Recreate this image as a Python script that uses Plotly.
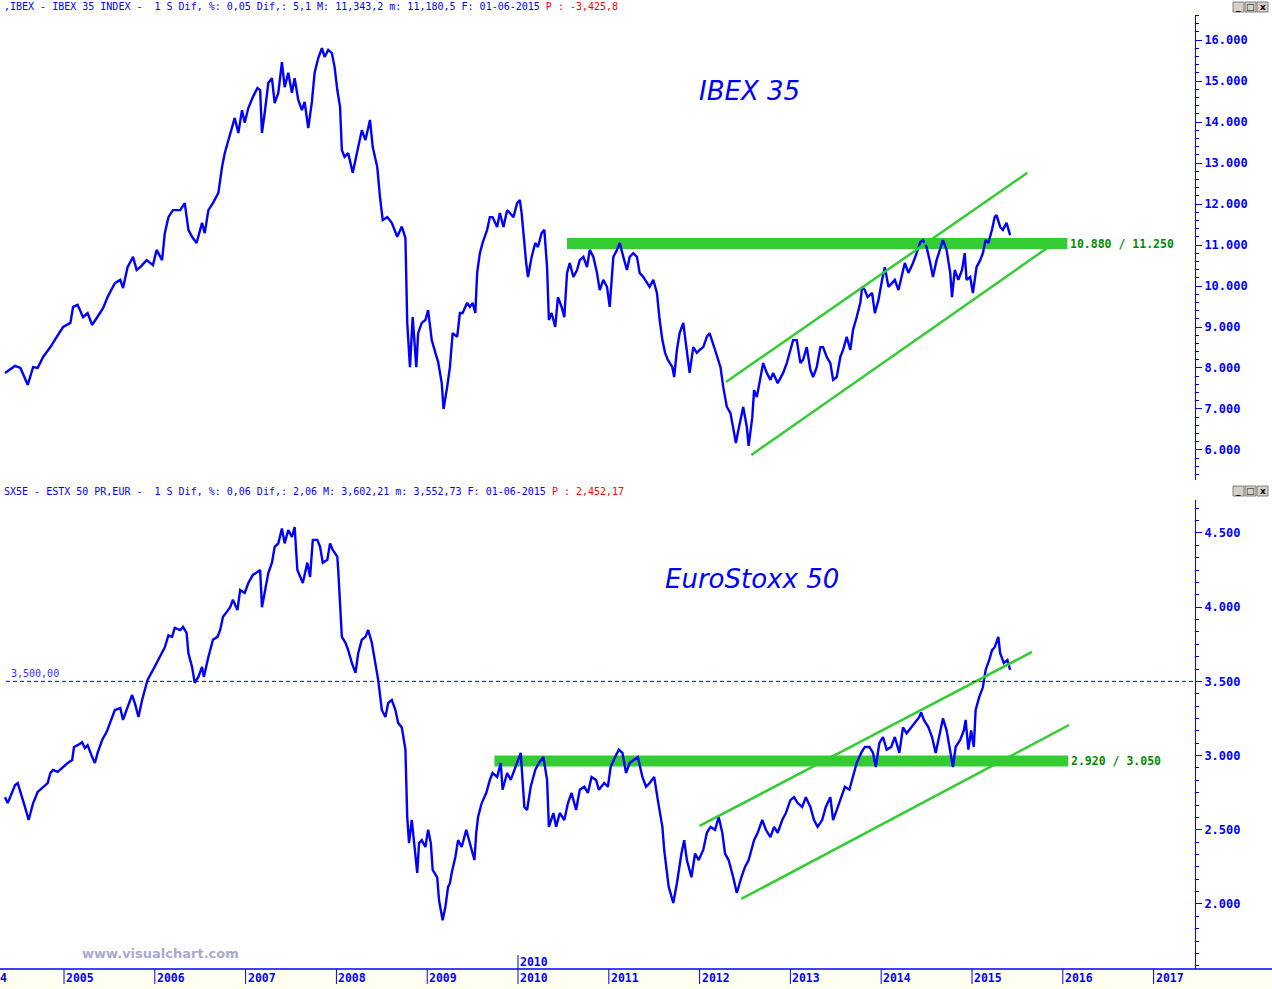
import plotly.graph_objects as go

# ---------------- data ----------------
ibex_t = [2004.35,2004.46,2004.52,2004.60,2004.66,2004.71,2004.77,2004.85,2004.92,2004.99,
2005.07,2005.10,2005.15,2005.21,2005.26,2005.31,2005.36,2005.43,2005.48,2005.56,2005.62,2005.65,
2005.70,2005.76,2005.80,2005.84,2005.91,2005.98,2006.02,2006.08,2006.11,2006.15,2006.20,2006.28,
2006.33,2006.37,2006.41,2006.46,2006.52,2006.55,2006.59,2006.64,2006.70,2006.74,2006.77,2006.81,
2006.85,2006.88,2006.92,2006.96,2006.99,2007.03,2007.08,2007.13,2007.16,2007.18,2007.21,2007.25,
2007.29,2007.32,2007.36,2007.40,2007.43,2007.47,2007.51,2007.54,2007.58,2007.62,2007.65,2007.69,
2007.73,2007.76,2007.80,2007.84,2007.87,2007.91,2007.95,2007.98,2008.01,2008.04,2008.06,2008.09,
2008.13,2008.18,2008.24,2008.28,2008.32,2008.37,2008.40,2008.45,2008.48,2008.51,2008.56,2008.61,
2008.67,2008.72,2008.76,2008.78,2008.81,2008.84,2008.88,2008.90,2008.94,2008.98,2009.01,2009.05,
2009.09,2009.12,2009.16,2009.18,2009.22,2009.25,2009.28,2009.33,2009.36,2009.39,2009.44,2009.47,
2009.50,2009.53,2009.55,2009.58,2009.61,2009.66,2009.69,2009.72,2009.77,2009.80,2009.84,2009.88,
2009.91,2009.95,2009.99,2010.02,2010.04,2010.06,2010.09,2010.11,2010.15,2010.19,2010.22,2010.26,
2010.29,2010.32,2010.34,2010.37,2010.41,2010.44,2010.48,2010.51,2010.54,2010.57,2010.61,2010.65,
2010.68,2010.72,2010.76,2010.79,2010.83,2010.87,2010.90,2010.94,2010.98,2011.01,2011.05,2011.09,
2011.12,2011.16,2011.20,2011.23,2011.27,2011.31,2011.34,2011.38,2011.42,2011.45,2011.49,2011.53,
2011.56,2011.59,2011.62,2011.65,2011.70,2011.72,2011.75,2011.78,2011.82,2011.86,2011.89,2011.93,
2011.97,2012.00,2012.04,2012.08,2012.11,2012.17,2012.23,2012.26,2012.30,2012.34,2012.37,2012.40,
2012.42,2012.46,2012.48,2012.52,2012.54,2012.58,2012.60,2012.63,2012.67,2012.70,2012.74,2012.78,
2012.81,2012.86,2012.92,2012.96,2013.00,2013.03,2013.07,2013.11,2013.14,2013.18,2013.22,2013.25,
2013.29,2013.33,2013.36,2013.40,2013.44,2013.47,2013.51,2013.55,2013.58,2013.62,2013.66,2013.69,
2013.73,2013.77,2013.79,2013.82,2013.85,2013.90,2013.93,2013.97,2014.01,2014.04,2014.08,2014.12,
2014.15,2014.19,2014.23,2014.26,2014.30,2014.35,2014.39,2014.43,2014.46,2014.50,2014.54,2014.57,
2014.61,2014.65,2014.68,2014.72,2014.76,2014.78,2014.81,2014.85,2014.89,2014.92,2014.94,2014.98,
2015.01,2015.05,2015.09,2015.12,2015.15,2015.18,2015.22,2015.25,2015.27,2015.31,2015.34,2015.38,2015.42]
ibex_v = [7880,8050,8000,7590,8020,8000,8270,8510,8760,9000,
9100,9490,9540,9240,9340,9050,9220,9460,9730,10070,10150,9950,
10460,10710,10390,10460,10630,10510,10880,10630,11290,11680,11850,11850,
12020,11370,11200,11050,11540,11290,11850,12020,12270,12900,13240,13560,
13880,14100,13730,14290,13980,14340,14610,14830,14780,13730,14220,14950,
15070,14460,14710,15460,14850,15200,14710,15070,14540,14290,14490,13850,
14490,15200,15560,15800,15590,15760,15680,15340,14780,14370,13320,13150,
13240,12760,13390,13800,13560,14050,13390,12900,12170,11610,11680,11540,
11200,11450,11170,9100,8020,9240,8020,8850,9100,9170,9410,8680,
8370,8150,7630,7000,7540,8020,8850,8760,9340,9340,9590,9490,
9590,9340,10320,10800,11050,11370,11680,11680,11440,11780,11440,11850,
11780,11680,12020,12100,11780,11200,10560,10220,10710,11050,10950,11290,
11370,10460,9170,9340,9000,9730,9490,9240,10320,10560,10220,10390,
10630,10710,10460,10880,10710,10320,9900,10150,9980,9490,10710,10880,
11050,10710,10390,10710,10800,10710,10320,10220,10070,9980,10150,9830,
9170,8680,8370,8200,8020,7780,8440,8850,9100,8440,7880,8510,
8370,8440,8510,8760,8850,8440,8020,7540,7050,6900,6560,6170,
6410,6800,7050,6560,6100,6800,7460,7290,7780,8120,7880,7710,
7880,7630,7880,8120,8440,8680,8680,8120,8200,8510,7950,7780,
8020,8510,8510,8270,8120,7710,7780,8270,8440,8760,8440,8930,
9240,9590,9980,9900,9730,9830,9340,9660,10150,10460,9980,10070,
10150,9900,10320,10560,10320,10560,10800,11070,11120,10950,10560,10220,
10630,10880,11120,10880,10320,9730,10390,10150,10390,10800,10150,10220,
9830,10460,10630,10800,11120,11050,11370,11680,11730,11440,11370,11540,11240]

sx5e_t = [2004.35,2004.38,2004.43,2004.46,2004.49,2004.54,2004.57,2004.61,2004.66,2004.71,
2004.77,2004.82,2004.85,2004.88,2004.93,2004.99,2005.04,2005.09,2005.11,2005.15,2005.20,2005.23,
2005.26,2005.31,2005.34,2005.37,2005.42,2005.47,2005.51,2005.56,2005.62,2005.65,2005.70,2005.75,
2005.78,2005.82,2005.86,2005.89,2005.92,2005.98,2006.04,2006.08,2006.11,2006.15,2006.19,2006.22,
2006.28,2006.31,2006.35,2006.37,2006.41,2006.44,2006.48,2006.52,2006.54,2006.59,2006.64,2006.69,
2006.72,2006.75,2006.80,2006.83,2006.86,2006.91,2006.94,2006.99,2007.03,2007.08,2007.13,2007.16,
2007.18,2007.21,2007.25,2007.29,2007.32,2007.36,2007.40,2007.43,2007.47,2007.51,2007.54,2007.57,
2007.60,2007.63,2007.68,2007.71,2007.74,2007.79,2007.82,2007.85,2007.90,2007.93,2007.96,2008.01,
2008.02,2008.04,2008.06,2008.10,2008.13,2008.17,2008.21,2008.24,2008.28,2008.32,2008.35,2008.39,
2008.42,2008.46,2008.50,2008.54,2008.57,2008.61,2008.65,2008.68,2008.72,2008.76,2008.78,2008.80,
2008.83,2008.85,2008.89,2008.91,2008.94,2008.98,2009.01,2009.04,2009.06,2009.11,2009.13,2009.17,
2009.20,2009.23,2009.25,2009.27,2009.31,2009.34,2009.38,2009.43,2009.47,2009.52,2009.54,2009.56,
2009.60,2009.65,2009.69,2009.72,2009.77,2009.81,2009.83,2009.88,2009.92,2009.97,2010.01,2010.03,
2010.07,2010.10,2010.14,2010.19,2010.23,2010.28,2010.32,2010.34,2010.39,2010.42,2010.46,2010.51,
2010.55,2010.59,2010.64,2010.68,2010.73,2010.77,2010.81,2010.86,2010.89,2010.95,2010.99,2011.02,
2011.07,2011.11,2011.15,2011.19,2011.23,2011.28,2011.32,2011.37,2011.41,2011.45,2011.50,2011.54,
2011.59,2011.61,2011.64,2011.66,2011.71,2011.75,2011.80,2011.83,2011.86,2011.91,2011.95,2011.99,
2012.04,2012.08,2012.12,2012.17,2012.21,2012.25,2012.28,2012.32,2012.37,2012.41,2012.46,2012.50,
2012.54,2012.57,2012.60,2012.64,2012.69,2012.73,2012.78,2012.82,2012.86,2012.91,2012.95,2013.00,
2013.04,2013.08,2013.13,2013.17,2013.22,2013.26,2013.30,2013.35,2013.39,2013.44,2013.47,2013.51,
2013.56,2013.60,2013.65,2013.69,2013.73,2013.78,2013.82,2013.87,2013.91,2013.94,2013.98,2014.02,
2014.06,2014.11,2014.15,2014.20,2014.24,2014.28,2014.33,2014.37,2014.42,2014.44,2014.47,2014.52,
2014.56,2014.60,2014.65,2014.68,2014.72,2014.76,2014.79,2014.82,2014.87,2014.91,2014.93,2014.96,
2014.99,2015.02,2015.04,2015.08,2015.12,2015.15,2015.19,2015.22,2015.25,2015.29,2015.31,2015.35,
2015.39,2015.42]
sx5e_v = [2720,2680,2755,2800,2815,2720,2654,2566,2680,2755,
2790,2815,2883,2903,2890,2923,2950,2970,3058,3070,3090,3050,
3070,2990,2950,3018,3105,3160,3220,3307,3320,3240,3327,3408,
3354,3260,3375,3442,3510,3577,3644,3690,3730,3810,3800,3860,
3846,3867,3826,3690,3597,3490,3530,3597,3530,3664,3780,3800,
3846,3934,3980,4000,4050,3980,4116,4096,4163,4217,4237,4250,
4000,4096,4230,4300,4406,4430,4530,4430,4520,4473,4540,4250,
4203,4163,4300,4203,4453,4453,4406,4300,4320,4430,4385,4340,
4250,4000,3800,3760,3710,3624,3557,3690,3780,3800,3846,3760,
3644,3510,3307,3260,3354,3375,3307,3220,3190,3040,2586,2410,
2566,2430,2210,2410,2430,2384,2500,2410,2230,2180,2027,1890,
1980,2115,2140,2210,2317,2430,2384,2500,2410,2296,2480,2586,
2680,2748,2836,2883,2856,2950,2770,2883,2836,2923,2990,3018,
2654,2633,2790,2903,2950,2990,2836,2520,2613,2520,2613,2566,
2680,2748,2633,2770,2790,2748,2856,2836,2770,2815,2790,2923,
2990,3040,3018,2883,2950,2970,2990,2856,2790,2815,2856,2700,
2520,2364,2210,2115,2007,2140,2340,2430,2296,2180,2340,2296,
2364,2480,2520,2500,2586,2480,2340,2296,2180,2074,2180,2250,
2296,2364,2430,2480,2566,2500,2450,2520,2480,2566,2613,2700,
2720,2680,2654,2720,2654,2566,2520,2566,2654,2720,2566,2633,
2720,2790,2770,2856,2950,3018,3058,3058,3018,2923,3085,3125,
3040,3058,3125,3018,3190,3150,3190,3220,3260,3290,3240,3190,
3125,3018,3150,3250,3170,3018,2923,3058,3105,3170,3240,3040,
3170,3058,3307,3395,3460,3577,3644,3710,3730,3800,3690,3624,
3644,3577]

# channel lines (start / end) and support-resistance zones
ibex_chan_up_t, ibex_chan_up_v = [2012.29, 2015.61], [7660, 12760]
ibex_chan_lo_t, ibex_chan_lo_v = [2012.57, 2015.83], [5880, 10930]
sx5e_chan_up_t, sx5e_chan_up_v = [2012.00, 2015.66], [2526, 3698]
sx5e_chan_lo_t, sx5e_chan_lo_v = [2012.46, 2016.07], [2034, 3206]
ibex_zone_t, ibex_zone_v = [2010.54, 2016.05], [10900, 11170]
sx5e_zone_t, sx5e_zone_v = [2009.74, 2016.06], [2926, 3000]
ibex_zone_label = "10.880 / 11.250"
sx5e_zone_label = "2.920 / 3.050"
sx5e_ref_level = 3500
sx5e_ref_label = "3,500,00"

ibex_tickvals = [6000, 7000, 8000, 9000, 10000, 11000, 12000, 13000, 14000, 15000, 16000]
ibex_ticktext = ["6.000", "7.000", "8.000", "9.000", "10.000", "11.000", "12.000",
                 "13.000", "14.000", "15.000", "16.000"]
sx5e_tickvals = [2000, 2500, 3000, 3500, 4000, 4500]
sx5e_ticktext = ["2.000", "2.500", "3.000", "3.500", "4.000", "4.500"]
years = [2005, 2006, 2007, 2008, 2009, 2010, 2011, 2012, 2013, 2014, 2015, 2016, 2017]
year_labels = [str(y) for y in years]
edge_year_fragment = "4"   # only the last digit of 2004 is visible at the left edge

header_top = ",IBEX - IBEX 35 INDEX -\u00a0\u00a01 S Dif, %: 0,05 Dif,: 5,1 M: 11,343,2 m: 11,180,5 F: 01-06-2015 "
header_top_red = "P : -3,425,8"
header_bot = "SX5E - ESTX 50 PR,EUR -\u00a0\u00a01 S Dif, %: 0,06 Dif,: 2,06 M: 3,602,21 m: 3,552,73 F: 01-06-2015 "
header_bot_red = "P : 2,452,17"
window_buttons = ["_", "□", "x"]

# ---------------- layout constants ----------------
W, H = 1272, 989
PLOT_W = 1195
X0, X1 = 2004.295, 2017.456
BLUE = "#0000ff"
GREEN = "#33cc33"
DGREEN = "#008c00"

def py(px):  # pixel row -> paper y
    return (H - px) / H

def pxx(px):  # pixel column -> paper x
    return px / PLOT_W

fig = go.Figure()

# price lines
fig.add_trace(go.Scatter(x=ibex_t, y=ibex_v, mode="lines", line=dict(color=BLUE, width=2.4),
                         xaxis="x", yaxis="y", hoverinfo="skip"))
fig.add_trace(go.Scatter(x=sx5e_t, y=sx5e_v, mode="lines", line=dict(color=BLUE, width=2.4),
                         xaxis="x2", yaxis="y2", hoverinfo="skip"))

# channels
for tt, vv, xa, ya in [(ibex_chan_up_t, ibex_chan_up_v, "x", "y"),
                       (ibex_chan_lo_t, ibex_chan_lo_v, "x", "y"),
                       (sx5e_chan_up_t, sx5e_chan_up_v, "x2", "y2"),
                       (sx5e_chan_lo_t, sx5e_chan_lo_v, "x2", "y2")]:
    fig.add_trace(go.Scatter(x=tt, y=vv, mode="lines", line=dict(color=GREEN, width=2.5),
                             xaxis=xa, yaxis=ya, hoverinfo="skip"))

shapes = []
annotations = []

# zones
for zt, zv, xr, yr, lab in [(ibex_zone_t, ibex_zone_v, "x", "y", ibex_zone_label),
                            (sx5e_zone_t, sx5e_zone_v, "x2", "y2", sx5e_zone_label)]:
    shapes.append(dict(type="rect", xref=xr, yref=yr, x0=zt[0], x1=zt[1], y0=zv[0], y1=zv[1],
                       fillcolor=GREEN, line=dict(width=0), layer="below"))
    annotations.append(dict(xref=xr, yref=yr, x=zt[1], y=(zv[0] + zv[1]) / 2, xanchor="left",
                            yanchor="middle", xshift=1, text=lab, showarrow=False,
                            font=dict(family="DejaVu Sans Mono", size=11.5, color=DGREEN, weight="bold")))

# 3500 reference line
shapes.append(dict(type="line", xref="paper", yref="y2", x0=pxx(6), x1=1, y0=sx5e_ref_level,
                   y1=sx5e_ref_level, line=dict(color=BLUE, width=1, dash="4px,3px")))
annotations.append(dict(xref="paper", yref="y2", x=pxx(9), y=sx5e_ref_level, xanchor="left",
                        yanchor="bottom", yshift=0, text=sx5e_ref_label, showarrow=False,
                        font=dict(family="DejaVu Sans Mono", size=10, color="#3333ff")))

# bottom date strip
shapes.append(dict(type="rect", xref="paper", yref="paper", x0=0, x1=W / PLOT_W, y0=0, y1=py(969),
                   fillcolor="#fffff0", line=dict(width=0), layer="below"))
shapes.append(dict(type="line", xref="paper", yref="paper", x0=0, x1=W / PLOT_W, y0=py(969),
                   y1=py(969), line=dict(color=BLUE, width=1.5)))
for yv, lab in zip(years, year_labels):
    shapes.append(dict(type="line", xref="x2", yref="paper", x0=yv, x1=yv, y0=py(969), y1=py(984),
                       line=dict(color=BLUE, width=1)))
    annotations.append(dict(xref="x2", yref="paper", x=yv, y=py(978), xanchor="left", yanchor="middle",
                            xshift=0, text=lab, showarrow=False,
                            font=dict(family="DejaVu Sans Mono", size=11.5, color=BLUE, weight="bold")))
annotations.append(dict(xref="paper", yref="paper", x=0, y=py(978), xanchor="left",
                        yanchor="middle", xshift=-2, text=edge_year_fragment, showarrow=False,
                        font=dict(family="DejaVu Sans Mono", size=11.5, color=BLUE, weight="bold")))
# cursor date marker above axis
shapes.append(dict(type="line", xref="x2", yref="paper", x0=2010, x1=2010, y0=py(969), y1=py(955),
                   line=dict(color=BLUE, width=1)))
annotations.append(dict(xref="x2", yref="paper", x=2010, y=py(962), xanchor="left", yanchor="middle",
                        text="2010", showarrow=False,
                        font=dict(family="DejaVu Sans Mono", size=11.5, color=BLUE, weight="bold")))

# titles
annotations.append(dict(xref="paper", yref="paper", x=pxx(749), y=py(91), text="IBEX 35", showarrow=False,
                        xanchor="center", yanchor="middle",
                        font=dict(family="DejaVu Sans", size=26, color=BLUE, style="italic")))
annotations.append(dict(xref="paper", yref="paper", x=pxx(752), y=py(579), text="EuroStoxx 50",
                        showarrow=False, xanchor="center", yanchor="middle",
                        font=dict(family="DejaVu Sans", size=26, color=BLUE, style="italic")))

# headers
for ypx, txt, red in [(7, header_top, header_top_red), (491, header_bot, header_bot_red)]:
    annotations.append(dict(xref="paper", yref="paper", x=pxx(2), y=py(ypx), xanchor="left",
                            yanchor="middle", showarrow=False,
                            text=txt + "<span style='color:#ff0000'>" + red + "</span>",
                            font=dict(family="DejaVu Sans Mono", size=10, color=BLUE)))
    # small window buttons at the right of each header
    for i, glyph in enumerate(window_buttons):
        bx = 1233 + i * 12
        shapes.append(dict(type="rect", xref="paper", yref="paper", x0=pxx(bx), x1=pxx(bx + 11),
                           y0=py(ypx + 5), y1=py(ypx - 5), fillcolor="#d4d0c8",
                           line=dict(color="#808080", width=1)))
        annotations.append(dict(xref="paper", yref="paper", x=pxx(bx + 5.5), y=py(ypx), text=glyph,
                                showarrow=False, xanchor="center", yanchor="middle",
                                font=dict(family="DejaVu Sans", size=9, color="#000000", weight="bold")))

# watermark
annotations.append(dict(xref="paper", yref="paper", x=pxx(160), y=py(953), text="www.visualchart.com",
                        showarrow=False, xanchor="center", yanchor="middle",
                        font=dict(family="DejaVu Sans", size=13, color="#a9a9cf", weight="bold")))

axis_common = dict(side="right", showgrid=False, zeroline=False, showline=True, linecolor=BLUE,
                   linewidth=1, ticks="outside", ticklen=6, tickcolor=BLUE,
                   tickfont=dict(family="DejaVu Sans Mono", size=12, color=BLUE, weight="bold"))

fig.update_layout(
    width=W, height=H, margin=dict(l=0, r=W - PLOT_W, t=0, b=0),
    paper_bgcolor="white", plot_bgcolor="white", showlegend=False,
    xaxis=dict(domain=[0, 1], range=[X0, X1], visible=False, anchor="y"),
    xaxis2=dict(domain=[0, 1], range=[X0, X1], visible=False, anchor="y2"),
    yaxis=dict(domain=[py(480), py(15)], range=[5268, 16610], anchor="x",
               tickvals=ibex_tickvals, ticktext=ibex_ticktext,
               minor=dict(dtick=200, tick0=0, ticks="outside", ticklen=3, tickcolor=BLUE, showgrid=False),
               **axis_common),
    yaxis2=dict(domain=[py(969), py(500)], range=[1562, 4722], anchor="x2",
                tickvals=sx5e_tickvals, ticktext=sx5e_ticktext,
                minor=dict(dtick=500 / 6, tick0=2000, ticks="outside", ticklen=3, tickcolor=BLUE,
                           showgrid=False),
                **axis_common),
    shapes=shapes, annotations=annotations,
)

fig.write_html("out.html", config={"displayModeBar": False},
               post_script="document.body.style.margin='0';document.body.style.overflow='hidden';")
